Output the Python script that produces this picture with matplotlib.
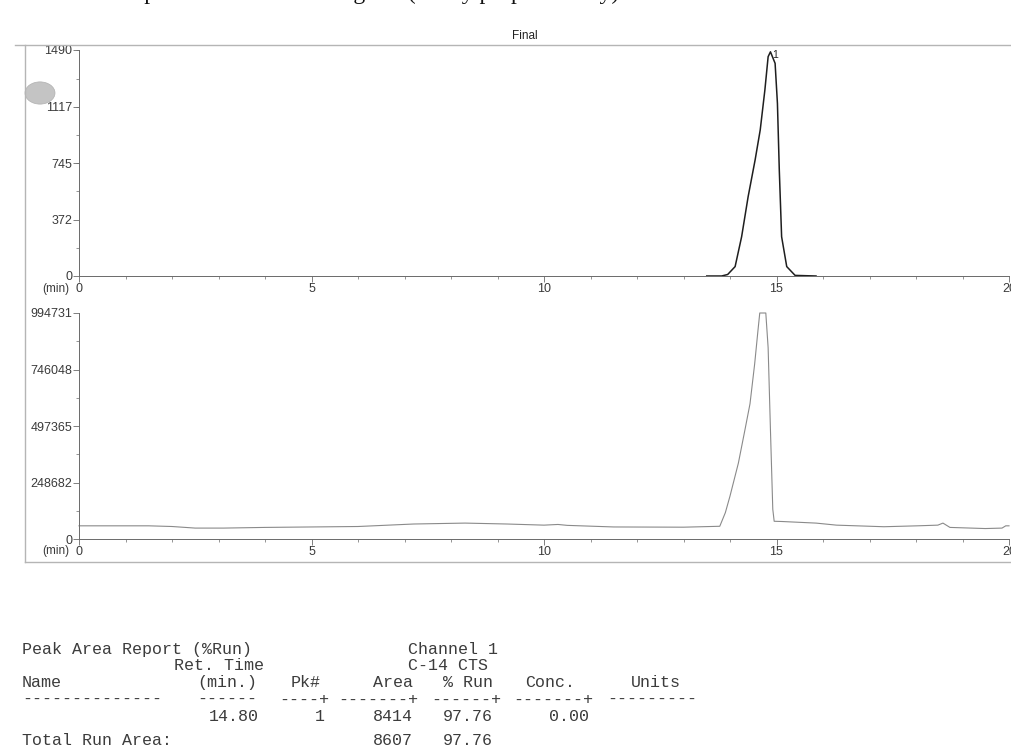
import re

import matplotlib
matplotlib.use('Agg')
import matplotlib.pyplot as plt
from matplotlib.lines import Line2D
from matplotlib.patches import Circle
from matplotlib.ticker import AutoMinorLocator, MultipleLocator

# top trace (Final, C-14 counts)
top_time = [13.5, 13.82, 13.95, 14.11, 14.25, 14.39, 14.54, 14.65, 14.75, 14.82, 14.87,
            14.97, 15.02, 15.06, 15.11, 15.22, 15.40, 15.85]
top_counts = [0, 0, 10, 62, 259, 523, 765, 963, 1226, 1446, 1478,
              1402, 1138, 699, 259, 62, 4, 0]
top_ticks = [0, 372, 745, 1117, 1490]

# bottom trace (second detector)
bot_time = [0.0, 1.5, 2.0, 2.5, 3.1, 4.0, 5.0, 6.0, 7.2, 8.3, 9.2, 10.0, 10.3, 10.5,
            11.5, 13.0, 13.78, 13.90, 14.00, 14.18, 14.32, 14.43, 14.53, 14.60, 14.64,
            14.77, 14.82, 14.87, 14.92, 14.95, 15.12, 15.85, 16.29, 17.31, 18.03, 18.47,
            18.58, 18.73, 19.49, 19.85, 19.93, 20.0]
bot_signal = [58000, 58000, 55000, 48000, 48000, 51000, 53000, 55000, 66000, 70000, 66000,
              61000, 64000, 60000, 53000, 52000, 56000, 116000, 189000, 334000, 479000,
              595000, 770000, 915000, 994731, 994731, 842000, 479000, 131000, 78000,
              77000, 70000, 61000, 54000, 58000, 61000, 70000, 51000, 46000, 48000, 58000,
              58000]
bot_ticks = [0, 248682, 497365, 746048, 994731]

x_ticks = [0, 5, 10, 15, 20]

# peak report
ret_time = 14.80
peak_no = 1
peak_area = 8414
pct_run = 97.76
conc = 0.00
total_area = 8607

W, H = 1011, 749
fig = plt.figure(figsize=(W / 100, H / 100), dpi=100)


def fx(px):
    return px / W


def fy(py):
    return 1 - py / H


axis_grey = '#6a6a6a'
label_grey = '#3a3a3a'


def style_axes(ax, yticks):
    for side in ['top', 'right']:
        ax.spines[side].set_visible(False)
    for side in ['left', 'bottom']:
        ax.spines[side].set_color(axis_grey)
        ax.spines[side].set_linewidth(0.7)
    ax.set_xlim(0, 20)
    ax.set_ylim(0, yticks[-1])
    ax.set_xticks(x_ticks)
    ax.xaxis.set_minor_locator(MultipleLocator(1))
    ax.set_yticks(yticks)
    ax.set_yticklabels([str(t) for t in yticks])
    ax.yaxis.set_minor_locator(AutoMinorLocator(2))
    ax.tick_params(which='major', direction='out', length=4, width=0.6, color=axis_grey,
                   labelsize=9, labelcolor=label_grey, pad=1)
    ax.tick_params(which='minor', direction='out', length=2, width=0.5, color=axis_grey)
    for lab in ax.get_xticklabels() + ax.get_yticklabels():
        lab.set_family('Liberation Sans')
    ax.patch.set_alpha(0)


ax_top = fig.add_axes([fx(79), fy(276), fx(930), 226 / H])
ax_bot = fig.add_axes([fx(79), fy(539), fx(930), 226 / H])

style_axes(ax_top, top_ticks)
style_axes(ax_bot, bot_ticks)

ax_top.plot(top_time, top_counts, color='#1e1e1e', lw=1.1)
ax_top.plot([13.9, 15.3], [0, 0], color='#555555', lw=0.7, ls=(0, (2, 2)))
ax_top.text(14.9, 1440, str(peak_no), fontsize=7.5, color='#222222', family='Liberation Sans')

ax_bot.plot(bot_time, bot_signal, color='#8a8a8a', lw=0.8, clip_on=False)

# "(min)" labels next to the x origin
for py in [289, 551]:
    fig.text(fx(56), fy(py), '(min)', fontsize=8.5, color=label_grey, ha='center',
             va='center', family='Liberation Sans')

fig.text(fx(525), fy(36), 'Final', fontsize=8.5, color='#222222', ha='center', va='center',
         family='Liberation Sans')

# printout frame and punch hole
frame = dict(color='#b5b5b5', lw=1.0, transform=fig.transFigure)
fig.add_artist(Line2D([fx(15), 1], [fy(45), fy(45)], **frame))
fig.add_artist(Line2D([fx(25), fx(25)], [fy(45), fy(562)], **frame))
fig.add_artist(Line2D([fx(25), 1], [fy(562), fy(562)], **frame))
fig.add_artist(Circle((fx(40), fy(93)), 15 / W, transform=fig.transFigure,
                      facecolor='#c4c4c4', edgecolor='#b0b0b0', lw=0.5))

# page header, cut off by the scan (only descenders remain)
fig.text(fx(118), fy(-1), 'Representative chromatogram (Purity purposes only)',
         fontsize=17, family='Liberation Serif', color='#111111', va='baseline')

# peak area report, monospace fields placed on a stretched column grid
report_lines = [
    'Peak Area Report (%Run)          Channel 1',
    '             Ret. Time           C-14 CTS',
    'Name           (min.)  Pk#    Area  % Run  Conc.    Units',
    '-------------- ------ ----+-------+------+-------+---------',
    '{:>21.2f}{:>5d}{:>8d}{:>7.2f}{:>8.2f}'.format(ret_time, peak_no, peak_area, pct_run, conc),
    '',
    'Total Run Area:{:>19d}{:>7.2f}'.format(total_area, pct_run),
]
baseline_y = [654, 670, 687, 704, 721, 733, 745]
col_w = 11.7

for line, py in zip(report_lines, baseline_y):
    if line.startswith('-'):
        fields = re.finditer(r'[^\s+]+\+?', line)
    else:
        fields = re.finditer(r'\S+(?: \S+)*', line)
    for m in fields:
        fig.text(fx(22 + m.start() * col_w), fy(py), m.group(), fontsize=12,
                 family='Liberation Mono', color='#3c3c3c', va='baseline')

fig.savefig('out.png', dpi=100)
